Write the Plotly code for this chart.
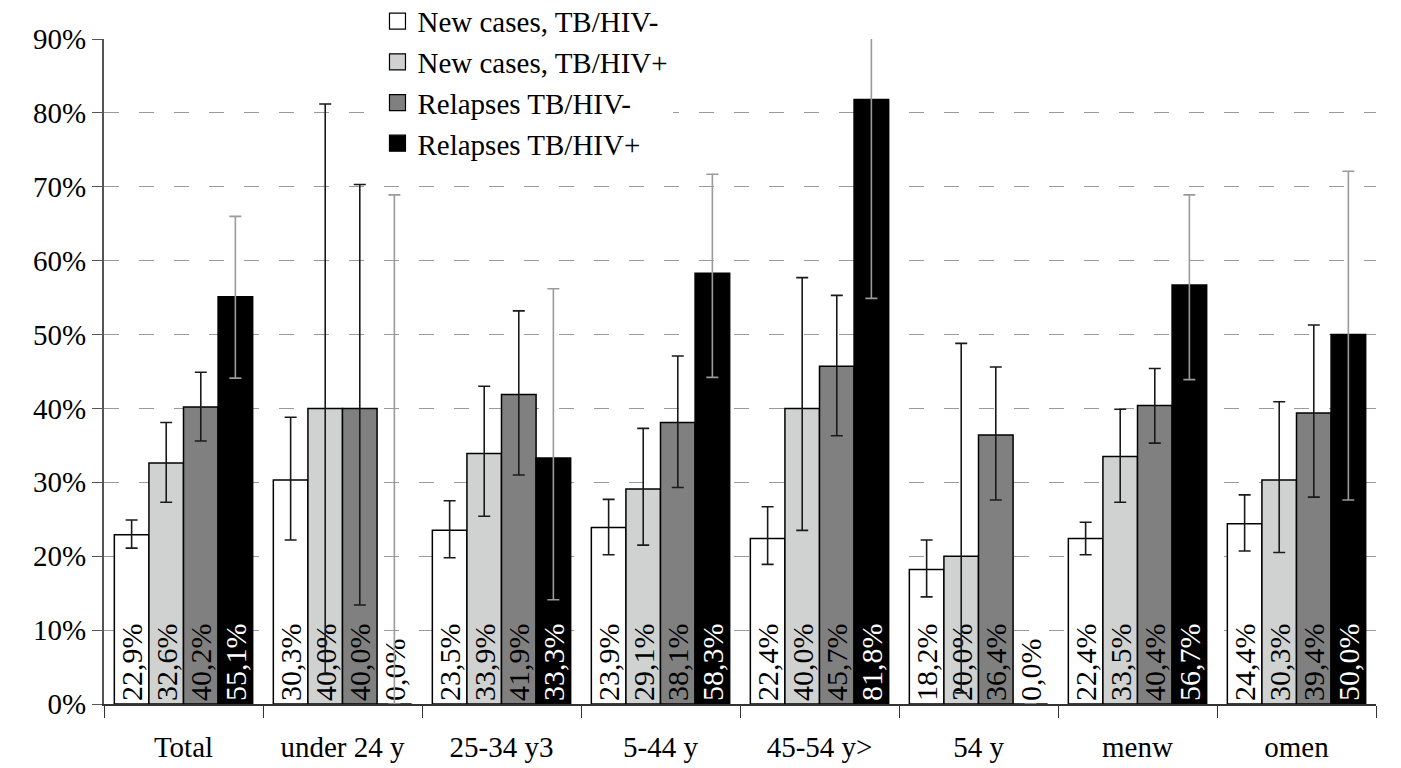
import plotly.graph_objects as go

categories = ["Total", "under 24 y", "25-34 y3", "5-44 y", "45-54 y>", "54 y", "menw", "omen"]

series_names = ["New cases, TB/HIV-", "New cases, TB/HIV+", "Relapses TB/HIV-", "Relapses TB/HIV+"]

new_neg = [22.9, 30.3, 23.5, 23.9, 22.4, 18.2, 22.4, 24.4]
new_neg_hi = [24.9, 38.8, 27.5, 27.7, 26.7, 22.2, 24.6, 28.3]
new_neg_lo = [21.1, 22.2, 19.8, 20.2, 18.9, 14.5, 20.2, 20.7]

new_pos = [32.6, 40.0, 33.9, 29.1, 40.0, 20.0, 33.5, 30.3]
new_pos_hi = [38.1, 81.2, 43.0, 37.3, 57.7, 48.8, 39.9, 40.9]
new_pos_lo = [27.3, 4.0, 25.4, 21.5, 23.5, 1.5, 27.3, 20.5]

rel_neg = [40.2, 40.0, 41.9, 38.1, 45.7, 36.4, 40.4, 39.4]
rel_neg_hi = [44.9, 70.3, 53.2, 47.1, 55.3, 45.6, 45.4, 51.3]
rel_neg_lo = [35.6, 13.4, 31.0, 29.3, 36.3, 27.6, 35.3, 28.0]

rel_pos = [55.1, 0.0, 33.3, 58.3, 81.8, 0.0, 56.7, 50.0]
rel_pos_hi = [66.0, 68.9, 56.2, 71.7, 90.8, None, 68.9, 72.1]
rel_pos_lo = [44.1, 0.0, 14.1, 44.2, 54.9, None, 43.9, 27.6]

y_ticks = [0, 10, 20, 30, 40, 50, 60, 70, 80, 90]
y_tick_labels = ["0%", "10%", "20%", "30%", "40%", "50%", "60%", "70%", "80%", "90%"]

FONT = "Times New Roman"
fills = ["#ffffff", "#d0d2d2", "#808080", "#000000"]
text_colors = ["#000000", "#000000", "#000000", "#ffffff"]
err_colors = ["#1a1a1a", "#1a1a1a", "#1a1a1a", "#9a9a9a"]

data = [
    (new_neg, new_neg_hi, new_neg_lo),
    (new_pos, new_pos_hi, new_pos_lo),
    (rel_neg, rel_neg_hi, rel_neg_lo),
    (rel_pos, rel_pos_hi, rel_pos_lo),
]


def fmt(v):
    return f"{v:.1f}".replace(".", ",") + "%"


fig = go.Figure()
for i, (vals, hi, lo) in enumerate(data):
    plus = [None if h is None else round(h - v, 3) for v, h in zip(vals, hi)]
    minus = [None if l is None else round(v - l, 3) for v, l in zip(vals, lo)]
    positions = ["outside" if v == 0 else "inside" for v in vals]
    fig.add_trace(go.Bar(
        x=categories,
        y=vals,
        name=series_names[i],
        showlegend=False,
        legendgroup=f"g{i}",
        marker=dict(color=fills[i], line=dict(color="#000000", width=1.5)),
        text=[fmt(v) for v in vals],
        textposition=positions,
        textangle=-90,
        insidetextanchor="start",
        insidetextfont=dict(family=FONT, size=30, color=text_colors[i]),
        outsidetextfont=dict(family=FONT, size=30, color="#000000"),
        constraintext="none",
        cliponaxis=False,
        error_y=dict(type="data", symmetric=False, array=plus, arrayminus=minus,
                     color=err_colors[i], thickness=1.6, width=6),
        hoverinfo="skip",
    ))

# legend entries
for i in range(4):
    fig.add_trace(go.Scatter(
        x=[None], y=[None], mode="markers", name=series_names[i],
        legendgroup=f"g{i}",
        marker=dict(symbol="square", size=16, color=fills[i],
                    line=dict(color="#000000", width=1.2)),
    ))

fig.update_layout(
    width=1401, height=768,
    margin=dict(l=104, r=25, t=39, b=64, autoexpand=False),
    paper_bgcolor="#ffffff", plot_bgcolor="#ffffff",
    barmode="group", bargap=0.13, bargroupgap=0,
    font=dict(family=FONT, size=29, color="#000000"),
    showlegend=True,
    legend=dict(x=0.215, y=1.065, xanchor="left", yanchor="top",
                bgcolor="#ffffff", borderwidth=0,
                font=dict(family=FONT, size=29, color="#000000"),
                tracegroupgap=0, itemclick=False, itemdoubleclick=False),
    xaxis=dict(
        type="category", showgrid=False, showline=True, linecolor="#333333", linewidth=1.5,
        ticks="outside", tickson="boundaries", ticklen=12, tickcolor="#333333", tickwidth=1.2,
        tickfont=dict(family=FONT, size=29, color="#000000"), ticklabelstandoff=16,
        automargin=False,
    ),
    yaxis=dict(
        range=[0, 90], tickvals=y_ticks, ticktext=y_tick_labels,
        showline=True, linecolor="#555555", linewidth=2,
        ticks="outside", ticklen=10, tickcolor="#555555", tickwidth=1.2,
        showgrid=True, gridcolor="#9a9a9a", gridwidth=1.3, griddash="15px,20px",
        zeroline=False, automargin=False,
        tickfont=dict(family=FONT, size=29, color="#000000"),
    ),
)

fig.write_html("out.html")
